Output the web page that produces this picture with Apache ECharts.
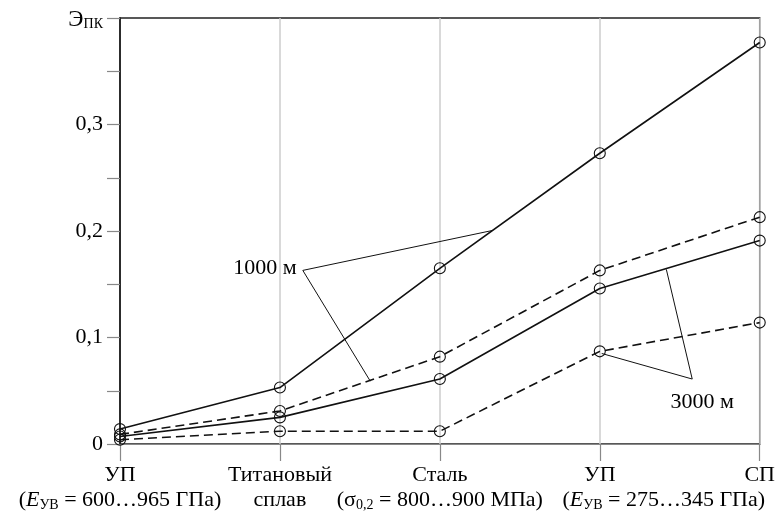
<!DOCTYPE html>
<html>
<head>
<meta charset="utf-8">
<script src="https://cdn.jsdelivr.net/npm/echarts@6/dist/echarts.min.js"></script>
<style>
  html, body { margin: 0; padding: 0; background: #fff; }
  #main { width: 778px; height: 513px; }
</style>
</head>
<body>
<div id="main"></div>
<script>
// materials along x axis (first line / second line of the label)
const categories = ['УП', 'Титановый', 'Сталь', 'УП', 'СП'];
const subLabels = [
  '({i|E}{s|УВ} = 600…965 ГПа)',
  'сплав',
  '(σ{s|0,2} = 800…900 МПа)',
  '{p|(}{i|E}{s|УВ} = 275…345 ГПа)',
  '',
];

// Э_ПК values
const solid1000 = [0.014, 0.053, 0.165, 0.273, 0.377];
const dashed1000 = [0.009, 0.031, 0.082, 0.163, 0.213];
const solid3000 = [0.007, 0.025, 0.061, 0.146, 0.191];
const dashed3000 = [0.004, 0.012, 0.012, 0.087, 0.114];

// leader lines for the depth labels (x in category units, y in Э_ПК)
const leader1000 = [[2.329, 0.2005], [1.143, 0.163], [1.565, 0.059]];
const leader3000 = [[3.416, 0.164], [3.578, 0.061], [3.012, 0.085]];

const font = 'Liberation Serif';
const ink = '#111';

const myChart = echarts.init(document.getElementById('main'));

const richStyles = {
  i: { fontStyle: 'italic', fontSize: 22, lineHeight: 25 },
  s: { fontSize: 14, lineHeight: 25, padding: [9, 0, 0, 0] },
  p: { fontSize: 22, lineHeight: 25, padding: [0, 0, 0, 128] },
};

function dataSeries(values, dashed) {
  return {
    type: 'line',
    data: values,
    symbol: 'circle',
    symbolSize: 11,
    itemStyle: { color: 'transparent', borderColor: ink, borderWidth: 1.1 },
    lineStyle: { color: ink, width: 1.6, type: dashed ? [9, 5] : 'solid' },
    emphasis: { disabled: true },
    z: 3,
  };
}

function leaderSeries(points, text, labelOpts) {
  return {
    type: 'line',
    xAxisIndex: 1,
    data: points.map((p, i) =>
      i === 1
        ? { value: p, label: Object.assign({ show: true, formatter: text, fontFamily: font, fontSize: 22, color: '#000' }, labelOpts) }
        : { value: p }
    ),
    symbol: 'circle',
    symbolSize: 0.1,
    showSymbol: true,
    itemStyle: { color: 'transparent' },
    lineStyle: { color: ink, width: 1 },
    emphasis: { disabled: true },
    silent: true,
    z: 2,
  };
}

const option = {
  animation: false,
  textStyle: { fontFamily: font, color: '#000' },
  grid: {
    left: 120, right: 14, top: 18, bottom: 68,
    show: true, borderColor: '#222', borderWidth: 1.5,
  },
  xAxis: [
    {
      type: 'category',
      data: categories,
      boundaryGap: false,
      axisLine: { lineStyle: { color: '#888', width: 1.2 } },
      axisTick: { length: 17, lineStyle: { color: '#888', width: 1.2 } },
      splitLine: { show: true, lineStyle: { color: '#ccc', width: 1.5 } },
      axisLabel: {
        margin: 19,
        fontFamily: font,
        fontSize: 22,
        lineHeight: 25,
        color: '#000',
        interval: 0,
        formatter: (name, i) => subLabels[i] ? name + '\n' + subLabels[i] : name,
        rich: richStyles,
      },
    },
    { type: 'value', min: 0, max: 4, show: false },
  ],
  yAxis: {
    type: 'value',
    min: 0,
    max: 0.4,
    interval: 0.05,
    axisLine: { show: true, lineStyle: { color: '#000', width: 1.5 } },
    axisTick: { show: true, length: 13, lineStyle: { color: '#888', width: 1.2 } },
    splitLine: { show: false },
    axisLabel: {
      margin: 17,
      fontFamily: font,
      fontSize: 22,
      color: '#000',
      showMaxLabel: true,
      formatter: (v) => {
        const k = Math.round(v * 100);
        if (k === 40) return '{e|Э}{s|ПК}';
        if (k % 10 !== 0) return '';
        return k === 0 ? '0' : (k / 100).toFixed(1).replace('.', ',');
      },
      rich: {
        e: { fontSize: 23, padding: [4, 0, 0, 0] },
        s: { fontSize: 14, padding: [12, 0, 0, 0] },
      },
    },
  },
  series: [
    dataSeries(solid1000, false),
    dataSeries(dashed1000, true),
    dataSeries(solid3000, false),
    dataSeries(dashed3000, true),
    leaderSeries(leader1000, '1000 м', { position: 'left', distance: 6, offset: [0, -2] }),
    leaderSeries(leader3000, '3000 м', { position: 'bottom', distance: 8, offset: [10, 4] }),
  ],
};

myChart.setOption(option);
</script>
</body>
</html>
